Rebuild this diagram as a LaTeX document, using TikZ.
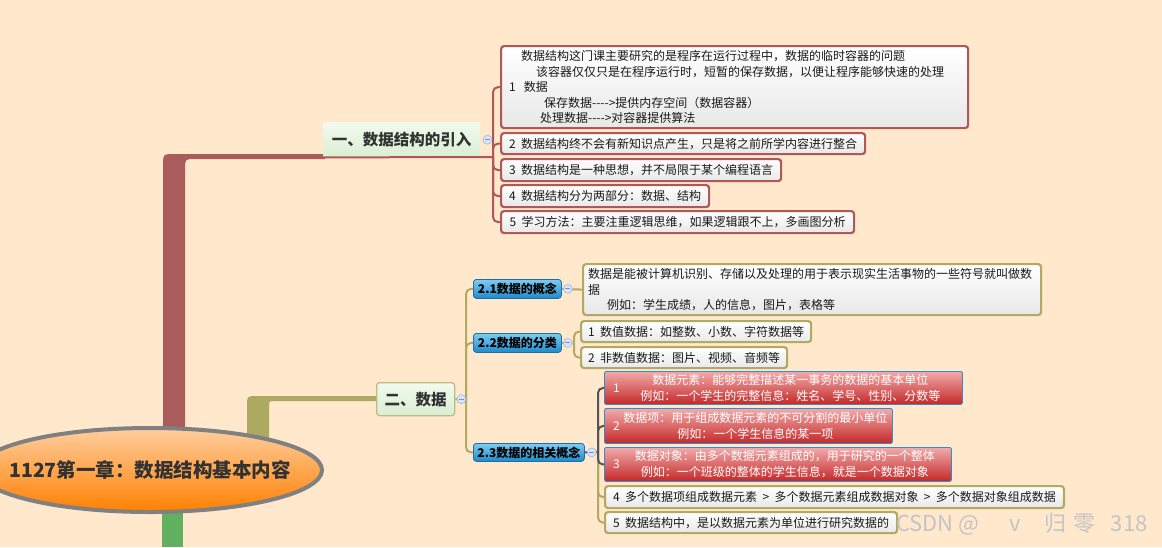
\documentclass[tikz,border=0pt]{standalone}
\usepackage{fontspec}
\setmainfont{Noto Sans CJK SC}
\usetikzlibrary{shapes.geometric}
\definecolor{bg}{RGB}{255,232,204}
\definecolor{trunkred}{RGB}{170,92,92}
\definecolor{trunkolive}{RGB}{172,170,96}
\definecolor{trunkgreen}{RGB}{96,176,96}
\definecolor{boxred}{RGB}{176,88,88}
\definecolor{boxolive}{RGB}{178,170,98}
\definecolor{txt}{RGB}{25,25,25}
\definecolor{head}{RGB}{50,50,50}
\definecolor{greentop}{RGB}{242,250,238}
\definecolor{greenbot}{RGB}{218,238,210}
\definecolor{bluetop}{RGB}{126,204,242}
\definecolor{bluebot}{RGB}{28,138,200}
\definecolor{blueborder}{RGB}{30,110,170}
\definecolor{pinktop}{RGB}{242,170,170}
\definecolor{redbot}{RGB}{196,40,40}
\definecolor{cellblue}{RGB}{50,140,205}
\definecolor{cfill}{RGB}{218,228,248}
\definecolor{cbord}{RGB}{160,182,224}
\definecolor{cminus}{RGB}{120,145,200}
\definecolor{orangetop}{RGB}{255,206,160}
\definecolor{orangebot}{RGB}{255,128,0}
\definecolor{ellborder}{RGB}{128,128,128}
\definecolor{wm}{RGB}{196,196,196}
\definecolor{grayline}{RGB}{85,85,85}
\tikzset{
  base/.style={font=\fontsize{12}{15.5}\selectfont, text=txt, inner ysep=0pt, anchor=north west},
  whitebox/.style={base, line width=2.2pt, rounded corners=3pt, top color=white, bottom color=black!9, align=left, inner xsep=8pt},
  redbox/.style={whitebox, draw=boxred},
  olivebox/.style={whitebox, draw=boxolive},
  cellbox/.style={base, font=\fontsize{12}{16}\selectfont, text=white, draw=cellblue, line width=0.9pt, rounded corners=2pt, top color=pinktop, bottom color=redbot, align=center, inner xsep=0pt},
  numlabel/.style={text=white, font=\fontsize{12}{12}\selectfont, anchor=west, inner sep=0pt, xshift=9pt},
  topicone/.style={anchor=north west, inner sep=0pt, font=\bfseries\fontsize{15.5}{18}\selectfont, text=head, top color=greentop, bottom color=greenbot},
  topictwo/.style={topicone, draw=boxolive!80, line width=1.3pt, rounded corners=3pt},
  bluenode/.style={anchor=north west, inner sep=0pt, font=\bfseries\fontsize{12}{14}\selectfont, text=black, top color=bluetop, bottom color=bluebot, draw=blueborder, line width=0.8pt, rounded corners=3pt},
  redline/.style={draw=boxred, line width=2pt, rounded corners=5pt},
  oliveline/.style={draw=boxolive, line width=2pt, rounded corners=5pt},
  grayconn/.style={draw=grayline, line width=2pt, rounded corners=5pt},
  ellipsestyle/.style={draw=ellborder, line width=4pt, top color=orangetop, bottom color=orangebot},
  collapse/.style={circle, draw=cbord, fill=cfill, minimum size=9pt, inner sep=0pt, line width=0.6pt,
    path picture={\draw[cminus, line width=0.9pt] ([xshift=-2.5pt]path picture bounding box.center) -- ([xshift=2.5pt]path picture bounding box.center);}}
}
\begin{document}
\begin{tikzpicture}[x=1pt,y=-1pt]
\clip (0,0) rectangle (1162,547);
\fill[bg] (0,0) rectangle (1162,547);

% trunks
\fill[trunkred] (163,450) -- (163,166) .. controls (163,154) .. (175,154) -- (325,154) -- (325,159) -- (195,159) .. controls (185,159) .. (185,169) -- (185,450) -- cycle;
\fill[trunkolive] (247,450) -- (247,406) .. controls (247,396) .. (257,396) -- (378,396) -- (378,401) -- (275,401) .. controls (269,401) .. (269,407) -- (269,450) -- cycle;
\fill[trunkgreen] (162,490) rectangle (183,547);

% central topic
\path[ellipsestyle] (150,470) ellipse [x radius=172pt, y radius=42pt];
\node[inner sep=0pt, font=\bfseries\fontsize{19.5}{21}\selectfont, text=head] (root) at (150,470) {1127第一章：数据结构基本内容};

% main topics
\node[topicone, minimum width=157pt, minimum height=35pt] (n1) at (323,122) {一、数据结构的引入};
\node[topictwo, minimum width=78pt, minimum height=33pt] (n2) at (376,382) {二、数据};

% branch 1 children
\node[redbox, minimum width=467pt, minimum height=82pt, text width=451pt] (a1) at (500,45) {%
\hspace*{12pt}数据结构这门课主要研究的是程序在运行过程中，数据的临时容器的问题\\
\hspace*{27pt}该容器仅仅只是在程序运行时，短暂的保存数据，以便让程序能够快速的处理\\
1\ \ 数据\\
\hspace*{35pt}保存数据-{}-{}-{}->提供内存空间（数据容器）\\
\hspace*{31pt}处理数据-{}-{}-{}->对容器提供算法};
\node[redbox, minimum width=363pt, minimum height=21pt] (a2) at (500,132) {2\ \ 数据结构终不会有新知识点产生，只是将之前所学内容进行整合};
\node[redbox, minimum width=278pt, minimum height=22pt] (a3) at (500,158) {3\ \ 数据结构是一种思想，并不局限于某个编程语言};
\node[redbox, minimum width=205pt, minimum height=22pt] (a4) at (500,184) {4\ \ 数据结构分为两部分：数据、结构};
\node[redbox, minimum width=353pt, minimum height=22pt] (a5) at (500,210) {5\ \ 学习方法：主要注重逻辑思维，如果逻辑跟不上，多画图分析};

\coordinate (j1) at (493,157);
\draw[redline] (n1.south west) -- (j1);
\foreach \c in {a1,a2,a3,a4,a5} \draw[redline] (j1) |- (\c.west);

% branch 2 subtopics
\node[bluenode, minimum width=88pt, minimum height=19pt] (b1) at (473,279) {2.1数据的概念};
\node[bluenode, minimum width=88pt, minimum height=19pt] (b2) at (473,333) {2.2数据的分类};
\node[bluenode, minimum width=111pt, minimum height=18pt] (b3) at (473,443) {2.3数据的相关概念};

\coordinate (j2) at (466,398.5);
\draw[oliveline] (n2.east) -- (j2);
\foreach \c in {b1,b2,b3} \draw[oliveline] (j2) |- (\c.west);

% 2.1 child
\node[olivebox, minimum width=458pt, minimum height=51pt, text width=448pt, inner xsep=5pt] (c1) at (582,263) {%
数据是能被计算机识别、存储以及处理的用于表示现实生活事物的一些符号就叫做数\\
据\\
\hspace*{19pt}例如：学生成绩，人的信息，图片，表格等};
\draw[oliveline] (b1.east) -- (c1.west);

% 2.2 children
\node[olivebox, minimum width=230pt, minimum height=21pt, inner xsep=7pt] (d1) at (580,320) {1\ \ 数值数据：如整数、小数、字符数据等};
\node[olivebox, minimum width=205pt, minimum height=21pt, inner xsep=7pt] (d2) at (580,346) {2\ \ 非数值数据：图片、视频、音频等};
\coordinate (j3) at (574,342.5);
\draw[oliveline] (b2.east) -- (j3);
\foreach \c in {d1,d2} \draw[oliveline] (j3) |- (\c.west);

% 2.3 children
\node[cellbox, minimum width=358pt, minimum height=33pt, label={[numlabel]west:1}] (e1) at (604,371) {%
\hspace*{14pt}数据元素：能够完整描述某一事务的数据的基本单位\\
\hspace*{14pt}例如：一个学生的完整信息：姓名、学号、性别、分数等};
\node[cellbox, minimum width=288pt, minimum height=35pt, label={[numlabel]west:2}] (e2) at (604,408) {%
\hspace*{14pt}数据项：用于组成数据元素的不可分割的最小单位\\
\hspace*{14pt}例如：一个学生信息的某一项};
\node[cellbox, minimum width=347pt, minimum height=34pt, label={[numlabel]west:3}] (e3) at (604,447) {%
\hspace*{14pt}数据对象：由多个数据元素组成的，用于研究的一个整体\\
\hspace*{14pt}例如：一个班级的整体的学生信息，就是一个数据对象};
\node[olivebox, minimum width=455pt, minimum height=22pt] (e4) at (604,485) {4\ \ 多个数据项组成数据元素\ \ >\ \ 多个数据元素组成数据对象\ \ >\ \ 多个数据对象组成数据};
\node[olivebox, minimum width=290pt, minimum height=21pt] (e5) at (604,511) {5\ \ 数据结构中，是以数据元素为单位进行研究数据的};

\coordinate (j4) at (598,452);
\foreach \c in {e4,e5} \draw[oliveline] (j4) |- (\c.west);
\foreach \c in {e1,e2,e3} \draw[grayconn] (j4) |- (\c.west);
\draw[grayconn] (b3.east) -- (j4);

% collapse markers
\node[collapse] (k1) at ([xshift=7pt]n1.east) {};
\node[collapse] (k2) at ([xshift=6pt]n2.east) {};
\node[collapse] (k3) at ([xshift=6pt]b1.east) {};
\node[collapse] (k4) at ([xshift=6pt]b2.east) {};
\node[collapse] (k5) at ([xshift=7pt]b3.east) {};

% watermark
\node[anchor=west, inner sep=0pt, text=wm, font=\fontsize{22}{22}\selectfont] (wmark) at (896,524) {CSDN @\hspace{30pt}v\hspace{24pt}归\hspace{6pt}零\hspace{16pt}318};
\end{tikzpicture}
\end{document}
